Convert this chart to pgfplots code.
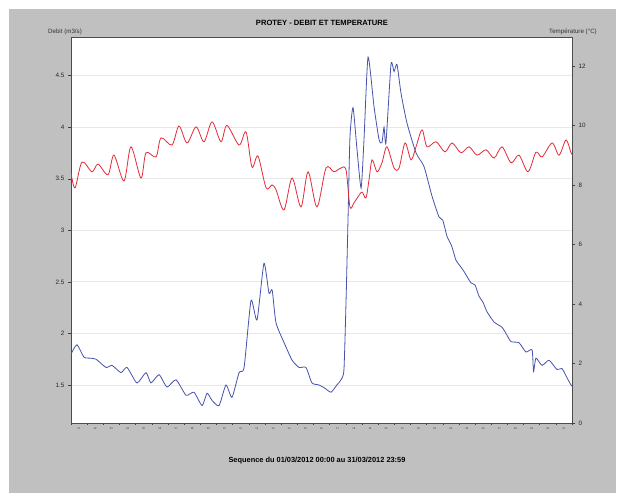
\documentclass[border=0pt]{standalone}
\usepackage{pgfplots}
\pgfplotsset{compat=1.18}
\usepackage{fontspec}
\setmainfont{Liberation Sans}
\definecolor{panel}{RGB}{192,192,192}
\definecolor{qblue}{RGB}{70,82,172}
\definecolor{tred}{RGB}{228,42,56}
\definecolor{gridc}{RGB}{232,232,232}

\begin{document}
\begin{tikzpicture}[x=1pt,y=1pt]
\fill[white] (0,0) rectangle (625,502);
\fill[panel] (9,9) rectangle (616,493);

% Débit (m3/s), day of month vs flow
\begin{axis}[
  at={(71pt,79pt)}, anchor=south west, scale only axis,
  width=501pt, height=386pt,
  xmin=0, xmax=31, ymin=1.1314, ymax=4.875,
  axis background/.style={fill=white},
  axis line style={gray!60!black, line width=0.6pt},
  ytick={1.5,2,2.5,3,3.5,4,4.5},
  yticklabels={1.5,2,2.5,3,3.5,4,4.5},
  ytick pos=left, ytick align=outside,
  major tick length=3pt,
  tick style={gray!50!black, line width=0.4pt},
  ymajorgrids, grid style={gridc, line width=0.8pt},
  xtick={0.5,1.5,...,30.5},
  xticklabels={01,02,03,04,05,06,07,08,09,10,11,12,13,14,15,16,17,18,19,20,21,22,23,24,25,26,27,28,29,30,31},
  xtick pos=bottom, xtick align=outside,
  minor xtick={0,1,...,31},
  minor tick length=2pt,
  xticklabel style={font=\fontsize{2.6}{3}\selectfont, text=gray!40!black, yshift=2pt},
  major x tick style={draw=none},
  yticklabel style={font=\fontsize{6.3}{7}\selectfont, text=black!85},
  /pgf/number format/assume math mode=true,
]
\addplot[qblue, line width=0.8pt, smooth, tension=0.35] coordinates {
(0.00,1.80) (0.37,1.89) (0.80,1.77) (1.20,1.76) (1.55,1.75) (2.17,1.67) (2.54,1.69)
(3.09,1.62) (3.47,1.67) (4.08,1.52) (4.64,1.62) (4.95,1.52) (5.45,1.60) (5.94,1.48)
(6.50,1.55) (7.12,1.40) (7.61,1.43) (8.11,1.30) (8.42,1.42) (8.73,1.35) (9.16,1.30)
(9.59,1.50) (9.96,1.38) (10.40,1.62) (10.71,1.67) (11.14,2.32) (11.51,2.13)
(11.94,2.68) (12.25,2.39) (12.45,2.42) (12.69,2.10) (13.30,1.87) (13.68,1.74)
(14.11,1.67) (14.54,1.67) (14.91,1.52) (15.35,1.50) (15.70,1.47) (16.09,1.43)
(16.45,1.50) (16.71,1.55) (16.89,1.65) (17.02,2.32) (17.14,3.10) (17.26,3.90)
(17.45,4.19) (17.70,3.78) (17.95,3.41) (18.13,3.88) (18.38,4.68) (18.75,4.20)
(19.06,3.88) (19.24,3.85) (19.37,4.00) (19.49,3.85) (19.80,4.61) (19.99,4.54)
(20.17,4.61) (20.42,4.33) (20.79,4.04) (21.35,3.75) (21.84,3.62) (22.34,3.33)
(22.77,3.13) (23.00,3.10) (23.27,2.94) (23.55,2.85) (23.82,2.71) (24.05,2.66)
(24.32,2.60) (24.75,2.49) (25.00,2.47) (25.25,2.36) (25.50,2.30) (25.74,2.21)
(26.18,2.11) (26.67,2.06) (26.95,1.99) (27.23,1.92) (27.72,1.91) (28.15,1.82)
(28.53,1.84) (28.62,1.63) (28.77,1.76) (29.15,1.69) (29.58,1.74) (30.07,1.65)
(30.38,1.66) (30.69,1.57) (30.94,1.50) (31.00,1.49)
};
\end{axis}

% Température (°C)
\begin{axis}[
  at={(71pt,79pt)}, anchor=south west, scale only axis,
  width=501pt, height=386pt,
  xmin=0, xmax=31, ymin=0, ymax=12.97,
  axis x line=none, axis y line*=right,
  axis line style={draw=none},
  ytick={0,2,...,12},
  ytick align=outside, major tick length=3pt,
  tick style={gray!50!black, line width=0.4pt},
  yticklabel style={font=\fontsize{6.3}{7}\selectfont, text=black!85},
  /pgf/number format/assume math mode=true,
]
\addplot[tred, line width=0.8pt, smooth, tension=0.5] coordinates {
(0.00,8.40) (0.25,7.90) (0.68,8.77) (1.30,8.44) (1.67,8.70) (2.29,8.34) (2.66,9.00)
(3.28,8.13) (3.71,9.28) (4.33,8.23) (4.64,9.08) (5.26,8.94) (5.57,9.58) (6.25,9.34)
(6.68,9.98) (7.18,9.41) (7.74,9.95) (8.23,9.45) (8.73,10.12) (9.28,9.45) (9.65,10.00)
(10.40,9.34) (10.83,9.78) (11.20,8.60) (11.57,8.97) (12.07,7.90) (12.44,8.00)
(12.69,7.83) (13.18,7.16) (13.68,8.23) (14.23,7.26) (14.67,8.44) (15.22,7.26)
(15.78,8.57) (16.27,8.44) (16.71,8.57) (17.02,8.50) (17.26,7.26) (17.51,7.40)
(17.76,7.60) (18.01,7.76) (18.25,7.56) (18.44,8.17) (18.63,8.84) (18.94,8.44)
(19.24,8.74) (19.55,9.28) (19.99,8.57) (20.30,8.57) (20.67,9.41) (21.04,8.84)
(21.35,9.28) (21.72,9.85) (22.03,9.28) (22.59,9.45) (23.14,9.11) (23.58,9.41)
(24.13,9.08) (24.63,9.28) (25.12,9.00) (25.68,9.18) (26.18,8.90) (26.67,9.28)
(27.23,8.74) (27.72,9.00) (28.28,8.44) (28.77,9.10) (29.15,8.94) (29.77,9.41)
(30.20,9.00) (30.63,9.51) (30.94,9.08) (31.00,9.05)
};
\end{axis}

\node[font=\bfseries\fontsize{7.6}{9}\selectfont] at (322,479) {PROTEY - DEBIT ET TEMPERATURE};
\node[font=\fontsize{6.2}{7}\selectfont, text=black!80] at (65,470) {Debit (m3/s)};
\node[font=\fontsize{6.2}{7}\selectfont, text=black!80] at (573,470) {Température (°C)};
\node[font=\bfseries\fontsize{7.4}{9}\selectfont] at (317,41) {Sequence du  01/03/2012 00:00  au  31/03/2012 23:59};
\end{tikzpicture}
\end{document}
